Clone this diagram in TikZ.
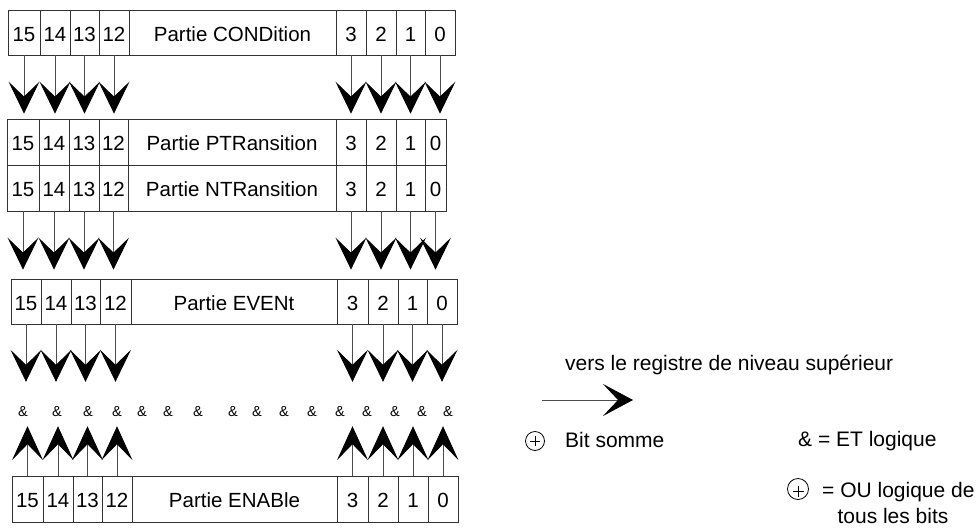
\documentclass[tikz,border=0pt]{standalone}
\usepackage{fontspec}
\setmainfont{Liberation Sans}
\usetikzlibrary{arrows.meta}

\newcommand\diagfont{\fontsize{20.5}{24}\selectfont}
\newcommand\legendfont{\fontsize{21}{25}\selectfont}
\newcommand\ampfont{\fontsize{14.5}{16}\selectfont}

% One status register row: prefix, top, bottom, bit cells (n/left/right),
% label cell left and right edges, label text
\newcommand\bitrow[7]{%
  \foreach \n/\a/\b in {#4}{%
    \pgfmathsetmacro\cw{\b-\a}%
    \pgfmathsetmacro\cx{(\a+\b)/2}%
    \node[regcell, minimum width=\cw pt, minimum height={(#3-#2)*1pt}]
      (#1\n) at (\cx,{(#2+#3)/2}) {\n};
  }%
  \node[regcell, minimum width={(#6-#5)*1pt}, minimum height={(#3-#2)*1pt}]
    (#1lbl) at ({(#5+#6)/2},{(#2+#3)/2}) {#7};
}

\tikzset{
  regcell/.style={draw=black!80, line width=0.8pt, inner sep=0pt,
    text height=17pt, text depth=0pt, font=\diagfont},
  flow/.style={draw=black!70, line width=0.8pt,
    -{Stealth[length=32pt, width=31pt, inset=15pt, black]}},
  upflow/.style={draw=black!70, line width=0.8pt,
    -{Stealth[length=34pt, width=31pt, inset=16pt, black]}},
  amp/.style={inner sep=0pt, text height=10pt, text depth=0pt, font=\ampfont},
  legend/.style={inner sep=0pt, font=\legendfont, anchor=base west},
  orpen/.style={draw=black, line width=0.8pt},
}

\begin{document}
\begin{tikzpicture}[x=1pt, y=-1pt]
\useasboundingbox (0,0) rectangle (980,528);

% registers
\bitrow{C}{10}{55}{15/8/40,14/40/70,13/70/99,12/99/129,3/336/366,2/366/396,1/396/425,0/425/455}{129}{336}{Partie CONDition}
\bitrow{P}{119}{165}{15/7/39,14/39/69,13/69/99,12/99/128,3/336/366,2/366/396,1/396/425,0/425/446}{128}{336}{Partie PTRansition}
\bitrow{N}{165}{211}{15/7/39,14/39/69,13/69/99,12/99/128,3/336/366,2/366/396,1/396/425,0/425/446}{128}{336}{Partie NTRansition}
\bitrow{E}{279}{324}{15/11/41,14/41/71,13/71/100,12/100/131,3/337/368,2/368/398,1/398/427,0/427/457}{131}{337}{Partie EVENt}
\bitrow{B}{476}{522}{15/12/43,14/43/73,13/73/102,12/102/132,3/337/368,2/368/398,1/398/428,0/428/458}{132}{337}{Partie ENABle}

% row of AND operators
\foreach \x [count=\i] in {23,57,88,117,142,168,198,233,257,284,312,340,367,395,422,448}
  \node[amp] (A\i) at (\x,411) {\&};

% bit transfers between the registers
\foreach \n in {15,14,13,12,3,2,1,0}{
  \draw[flow, shorten >=5pt] (C\n.south) -- (C\n.south |- P\n.north);
  \draw[flow, shorten >=9pt] (N\n.south) -- (N\n.south |- E\n.north);
  \draw[flow, shorten >=24pt] (E\n.south) -- (E\n.south |- A1.north);
  \draw[upflow, shorten >=10pt] (B\n.north) -- (B\n.north |- A1.south);
}

% legend
\node[legend] (up) at (565,370) {vers le registre de niveau supérieur};
\coordinate (legA) at (542,400);
\coordinate (legB) at (633,400);
\draw[flow, -{Stealth[length=30pt, width=32pt, inset=15pt, black]}] (legA) -- (legB);

% sum-bit symbol: circled plus
\coordinate (sum1) at (535,441);
\draw[orpen] (sum1) circle[radius=9.5pt];
\draw[orpen] ([xshift=-5pt]sum1) -- ([xshift=5pt]sum1)
  ([yshift=-5pt]sum1) -- ([yshift=5pt]sum1);
\node[legend] (bitsum) at (565,447) {Bit somme};

\node[legend] (andl) at (798,446) {\& = ET logique};

\coordinate (sum2) at (798,489);
\draw[orpen] (sum2) circle[radius=10.5pt];
\draw[orpen] ([xshift=-5.5pt,yshift=-2.5pt]sum2) -- ([xshift=5.5pt,yshift=-2.5pt]sum2)
  ([yshift=-8pt]sum2) -- ([yshift=3pt]sum2);
\node[legend] (orl) at (822,497) {= OU logique de};
\node[inner sep=0pt, font=\legendfont, anchor=base] (orl2) at (893,523) {tous les bits};
\end{tikzpicture}
\end{document}
